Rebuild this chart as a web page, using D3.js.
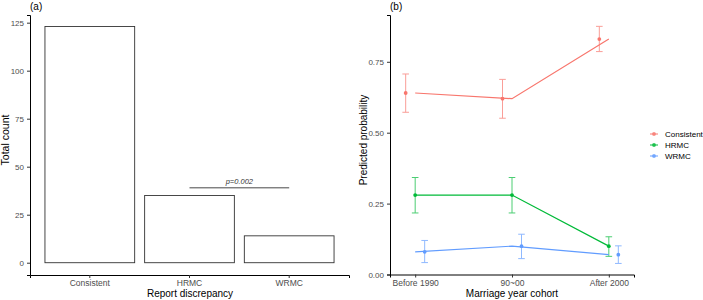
<!DOCTYPE html>
<html>
<head>
<meta charset="utf-8">
<script src="https://cdn.jsdelivr.net/npm/d3@7"></script>
<style>
  body { margin: 0; background: #fff; }
  svg { font-family: "Liberation Sans", Arial, sans-serif; }
</style>
</head>
<body>
<svg id="chart" width="703" height="300"></svg>
<script>
// panel (a) data
const discrepancy = ["Consistent", "HRMC", "WRMC"];
const totalCount = [123, 35, 14];
const countTicks = [0, 25, 50, 75, 100, 125];
const pBracket = { from: "HRMC", to: "WRMC", y: 39, label: "p=0.002" };

// panel (b) data
const cohorts = ["Before 1990", "90~00", "After 2000"];
const groups = ["Consistent", "HRMC", "WRMC"];
const groupColors = ["#F8766D", "#00BA38", "#619CFF"];
const probLine = {
  Consistent: [0.64, 0.62, 0.83],
  HRMC: [0.28, 0.28, 0.10],
  WRMC: [0.08, 0.10, 0.07]
};
const probPoint = {
  Consistent: [0.64, 0.62, 0.83],
  HRMC: [0.28, 0.28, 0.10],
  WRMC: [0.08, 0.10, 0.07]
};
const probLow = {
  Consistent: [0.572, 0.551, 0.786],
  HRMC: [0.217, 0.217, 0.064],
  WRMC: [0.042, 0.056, 0.039]
};
const probHigh = {
  Consistent: [0.707, 0.688, 0.875],
  HRMC: [0.342, 0.342, 0.133],
  WRMC: [0.120, 0.142, 0.101]
};
const probTicks = [0, 0.25, 0.5, 0.75];

const svg = d3.select("#chart");
const tickColor = "#4D4D4D";

function styleAxis(g) {
  g.selectAll(".domain").attr("stroke", "#000").attr("stroke-width", 1);
  g.selectAll(".tick line").attr("stroke", "#333");
  g.selectAll(".tick text").attr("fill", tickColor).style("font-size", "8px");
}

// ---------- panel (a) ----------
const xA = d3.scaleBand()
  .domain(discrepancy)
  .range([30, 349])
  .paddingInner(0.1)
  .paddingOuter(0.15);
const yA = d3.scaleLinear().domain([-6.4, 129]).range([275, 15]);

svg.append("g")
  .selectAll("rect")
  .data(discrepancy)
  .enter()
  .append("rect")
  .attr("x", d => xA(d))
  .attr("width", xA.bandwidth())
  .attr("y", (d, i) => yA(totalCount[i]))
  .attr("height", (d, i) => yA(0) - yA(totalCount[i]))
  .attr("fill", "#fff")
  .attr("stroke", "#333")
  .attr("stroke-width", 0.9);

const axAx = svg.append("g")
  .attr("transform", "translate(0,275)")
  .call(d3.axisBottom(xA).tickSizeOuter(0).tickSize(3).tickPadding(2));
styleAxis(axAx);
axAx.selectAll(".tick text").style("font-size", "8.5px");

const axAy = svg.append("g")
  .attr("transform", "translate(30,0)")
  .call(d3.axisLeft(yA).tickValues(countTicks).tickSizeOuter(0).tickSize(3).tickPadding(3));
styleAxis(axAy);

// significance bracket
const bx1 = xA(pBracket.from) + xA.bandwidth() / 2;
const bx2 = xA(pBracket.to) + xA.bandwidth() / 2;
svg.append("line")
  .attr("x1", bx1).attr("x2", bx2)
  .attr("y1", yA(pBracket.y)).attr("y2", yA(pBracket.y))
  .attr("stroke", "#333").attr("stroke-width", 0.9);
svg.append("text")
  .attr("x", (bx1 + bx2) / 2)
  .attr("y", yA(pBracket.y) - 4)
  .attr("text-anchor", "middle")
  .style("font-size", "7.5px")
  .style("font-style", "italic")
  .attr("fill", "#333")
  .text(pBracket.label);

svg.append("text")
  .attr("x", 190).attr("y", 297)
  .attr("text-anchor", "middle")
  .style("font-size", "10px")
  .text("Report discrepancy");
svg.append("text")
  .attr("transform", "translate(9,140) rotate(-90)")
  .attr("text-anchor", "middle")
  .style("font-size", "10.5px")
  .text("Total count");
svg.append("text")
  .attr("x", 30).attr("y", 10)
  .style("font-size", "10px")
  .text("(a)");

// ---------- panel (b) ----------
const xB = d3.scalePoint().domain(cohorts).range([390, 634]).padding(0.26);
const yB = d3.scaleLinear().domain([0, 0.915]).range([274.5, 15]);
const dodge = d3.scalePoint().domain(groups).range([-9.5, 9.5]);

groups.forEach((g, gi) => {
  const col = groupColors[gi];
  const line = d3.line()
    .x((d, i) => xB(cohorts[i]))
    .y(d => yB(d));
  svg.append("path")
    .datum(probLine[g])
    .attr("d", line)
    .attr("fill", "none")
    .attr("stroke", col)
    .attr("stroke-width", 1.2);

  const eb = svg.append("g").attr("opacity", 0.7);
  cohorts.forEach((c, i) => {
    const x = xB(c) + dodge(g);
    eb.append("line")
      .attr("x1", x).attr("x2", x)
      .attr("y1", yB(probLow[g][i])).attr("y2", yB(probHigh[g][i]))
      .attr("stroke", col).attr("stroke-width", 1);
    [probLow[g][i], probHigh[g][i]].forEach(v => {
      eb.append("line")
        .attr("x1", x - 3.3).attr("x2", x + 3.3)
        .attr("y1", yB(v)).attr("y2", yB(v))
        .attr("stroke", col).attr("stroke-width", 1);
    });
  });

  svg.append("g")
    .selectAll("circle")
    .data(probPoint[g])
    .enter()
    .append("circle")
    .attr("cx", (d, i) => xB(cohorts[i]) + dodge(g))
    .attr("cy", d => yB(d))
    .attr("r", 1.9)
    .attr("fill", col);
});

const axBx = svg.append("g")
  .attr("transform", "translate(0,274.5)")
  .call(d3.axisBottom(xB).tickSizeOuter(0).tickSize(3).tickPadding(2));
styleAxis(axBx);
axBx.selectAll(".tick text").style("font-size", "8.5px");

const axBy = svg.append("g")
  .attr("transform", "translate(390,0)")
  .call(d3.axisLeft(yB).tickValues(probTicks).tickFormat(d3.format(".2f")).tickSizeOuter(0).tickSize(3).tickPadding(3));
styleAxis(axBy);

svg.append("text")
  .attr("x", 512).attr("y", 297)
  .attr("text-anchor", "middle")
  .style("font-size", "10px")
  .text("Marriage year cohort");
svg.append("text")
  .attr("transform", "translate(367,140) rotate(-90)")
  .attr("text-anchor", "middle")
  .style("font-size", "10px")
  .text("Predicted probability");
svg.append("text")
  .attr("x", 390).attr("y", 10)
  .style("font-size", "10px")
  .text("(b)");

// legend
const legend = svg.append("g").attr("transform", "translate(650,134)");
groups.forEach((g, i) => {
  const row = legend.append("g").attr("transform", `translate(0,${i * 11})`);
  row.append("line")
    .attr("x1", 0).attr("x2", 8).attr("y1", 0).attr("y2", 0)
    .attr("stroke", groupColors[i]).attr("stroke-width", 1.2).attr("opacity", 0.8);
  row.append("circle")
    .attr("cx", 4).attr("cy", 0).attr("r", 1.9)
    .attr("fill", groupColors[i]).attr("opacity", 0.8);
  row.append("text")
    .attr("x", 15).attr("y", 3)
    .style("font-size", "8px")
    .text(g);
});
</script>
</body>
</html>
